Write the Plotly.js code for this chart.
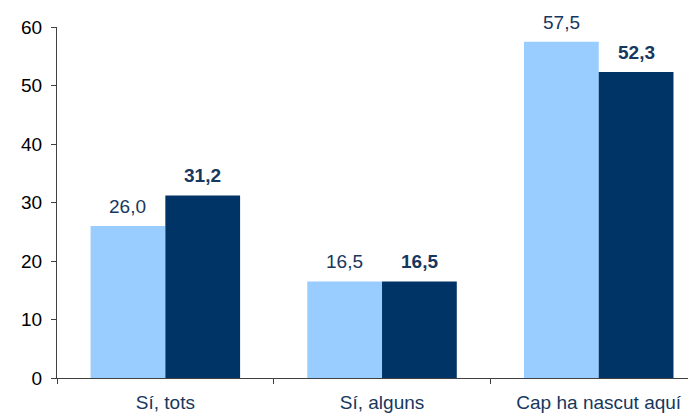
<!DOCTYPE html>
<html>
<head>
<meta charset="utf-8">
<script src="https://cdn.plot.ly/plotly-3.0.1.min.js"></script>
<style>html,body{margin:0;padding:0;background:#fff;}#chart{width:688px;height:416px;}</style>
</head>
<body>
<div id="chart"></div>
<script>
const categories = ["Sí, tots", "Sí, alguns", "Cap ha nascut aquí"];
const seriesA = [26.0, 16.5, 57.5];
const seriesB = [31.2, 16.5, 52.3];
const yTicks = [0, 10, 20, 30, 40, 50, 60];

const fmt = v => v.toFixed(1).replace('.', ',');
const FONT = 'Liberation Sans, Arial, sans-serif';

const traces = [
  {type: 'bar', x: categories, y: seriesA, marker: {color: '#99CCFF'}, hoverinfo: 'none'},
  {type: 'bar', x: categories, y: seriesB, marker: {color: '#003366'}, hoverinfo: 'none'}
];

const annotations = [];
categories.forEach((c, i) => {
  annotations.push({x: c, y: seriesA[i], text: fmt(seriesA[i]), showarrow: false, xshift: -37.5, yshift: 7, yanchor: 'bottom',
    font: {family: FONT, size: 19, color: '#17375E'}});
  annotations.push({x: c, y: seriesB[i], text: '<b>' + fmt(seriesB[i]) + '</b>', showarrow: false, xshift: 37.5, yshift: 7, yanchor: 'bottom',
    font: {family: FONT, size: 19, color: '#17375E'}});
});

const layout = {
  width: 688, height: 416,
  margin: {l: 57, r: 0, t: 27, b: 38, pad: 0},
  paper_bgcolor: '#fff', plot_bgcolor: '#fff',
  showlegend: false,
  barmode: 'group', bargap: 0.31, bargroupgap: 0,
  font: {family: FONT, size: 19, color: '#000'},
  xaxis: {
    type: 'category', range: [-0.5, 2.412], showgrid: false, zeroline: false,
    showline: true, linecolor: '#404040', linewidth: 1,
    ticks: 'outside', tickson: 'boundaries', ticklen: 5, tickcolor: '#404040',
    ticklabelstandoff: 7,
    tickfont: {family: FONT, size: 19, color: '#17375E'}, fixedrange: true
  },
  yaxis: {
    range: [0, 60], tickvals: yTicks, ticktext: yTicks.map(String), showgrid: false, zeroline: false,
    showline: true, linecolor: '#404040', linewidth: 1,
    ticks: 'outside', ticklen: 5, tickcolor: '#404040',
    ticklabelstandoff: 5,
    tickfont: {family: FONT, size: 19, color: '#000'}, fixedrange: true
  },
  annotations: annotations
};

Plotly.newPlot('chart', traces, layout, {displayModeBar: false, staticPlot: true});
</script>
</body>
</html>
